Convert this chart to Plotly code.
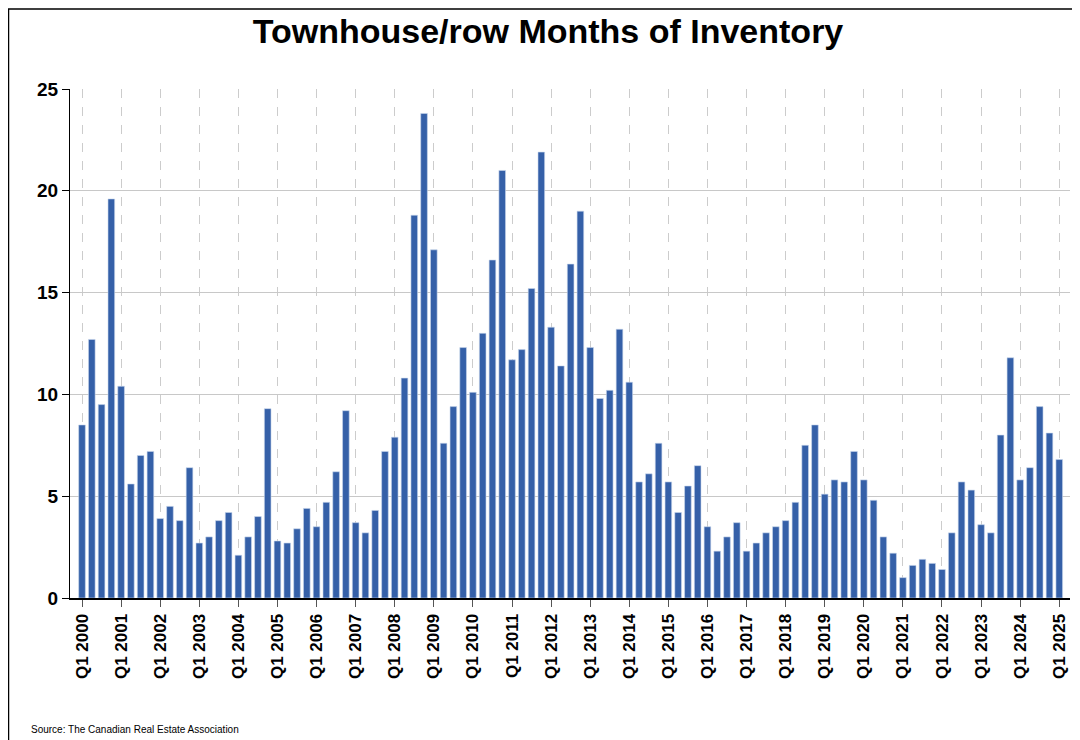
import plotly.graph_objects as go

years = list(range(2000, 2026))
quarters = [f"Q{q} {y}" for y in years for q in range(1, 5)][:101]
values = [8.5, 12.7, 9.5, 19.6,
          10.4, 5.6, 7.0, 7.2,
          3.9, 4.5, 3.8, 6.4,
          2.7, 3.0, 3.8, 4.2,
          2.1, 3.0, 4.0, 9.3,
          2.8, 2.7, 3.4, 4.4,
          3.5, 4.7, 6.2, 9.2,
          3.7, 3.2, 4.3, 7.2,
          7.9, 10.8, 18.8, 23.8,
          17.1, 7.6, 9.4, 12.3,
          10.1, 13.0, 16.6, 21.0,
          11.7, 12.2, 15.2, 21.9,
          13.3, 11.4, 16.4, 19.0,
          12.3, 9.8, 10.2, 13.2,
          10.6, 5.7, 6.1, 7.6,
          5.7, 4.2, 5.5, 6.5,
          3.5, 2.3, 3.0, 3.7,
          2.3, 2.7, 3.2, 3.5,
          3.8, 4.7, 7.5, 8.5,
          5.1, 5.8, 5.7, 7.2,
          5.8, 4.8, 3.0, 2.2,
          1.0, 1.6, 1.9, 1.7,
          1.4, 3.2, 5.7, 5.3,
          3.6, 3.2, 8.0, 11.8,
          5.8, 6.4, 9.4, 8.1,
          6.8]
tick_labels = [f"Q1 {y}" for y in years]
idx = list(range(len(quarters)))
tick_pos = [i for i, q in enumerate(quarters) if q.startswith("Q1")]

fig = go.Figure(go.Bar(x=idx, y=values, marker=dict(color="#3560A8", line=dict(color="#c9d6ec", width=0.6)),
                       hovertext=quarters))
fig.update_layout(
    width=1080, height=740, paper_bgcolor="white", plot_bgcolor="white",
    margin=dict(l=62, r=18, t=81, b=150, autoexpand=False), bargap=0.32, showlegend=False,
    font=dict(family="Liberation Sans, Arial", color="black"),
    title=dict(text="<b>Townhouse/row Months of Inventory</b>", x=0.5, xanchor="center", y=0.985, yanchor="top",
               font=dict(size=34, color="black")),
    xaxis=dict(range=[-1.23, 101.1], tickmode="array", tickvals=tick_pos, ticktext=tick_labels, tickangle=-90,
               automargin=False,
               tickfont=dict(size=17, weight="bold"), ticks="outside", ticklen=7, tickcolor="#555",
               showline=True, linecolor="black", linewidth=2, showgrid=True, gridcolor="#cccccc", griddash="dash",
               gridwidth=1, zeroline=False),
    yaxis=dict(range=[0, 25], tickvals=[0, 5, 10, 15, 20, 25], tickfont=dict(size=19, weight="bold"),
               automargin=False,
               ticks="outside", ticklen=7, tickcolor="black", showline=True, linecolor="black", linewidth=1,
               showgrid=True, gridcolor="#c8c8c8", gridwidth=1, zeroline=False),
)
fig.add_annotation(text="Source: The Canadian Real Estate Association", xref="paper", yref="paper",
                   x=-0.041, y=-0.243, xanchor="left", yanchor="top", showarrow=False, font=dict(size=10))
fig.add_shape(type="rect", xref="paper", yref="paper", x0=-0.0615, x1=1.0175, y0=-0.2925, y1=1.1572,
              line=dict(color="black", width=1.5))
fig.write_html("out.html")
